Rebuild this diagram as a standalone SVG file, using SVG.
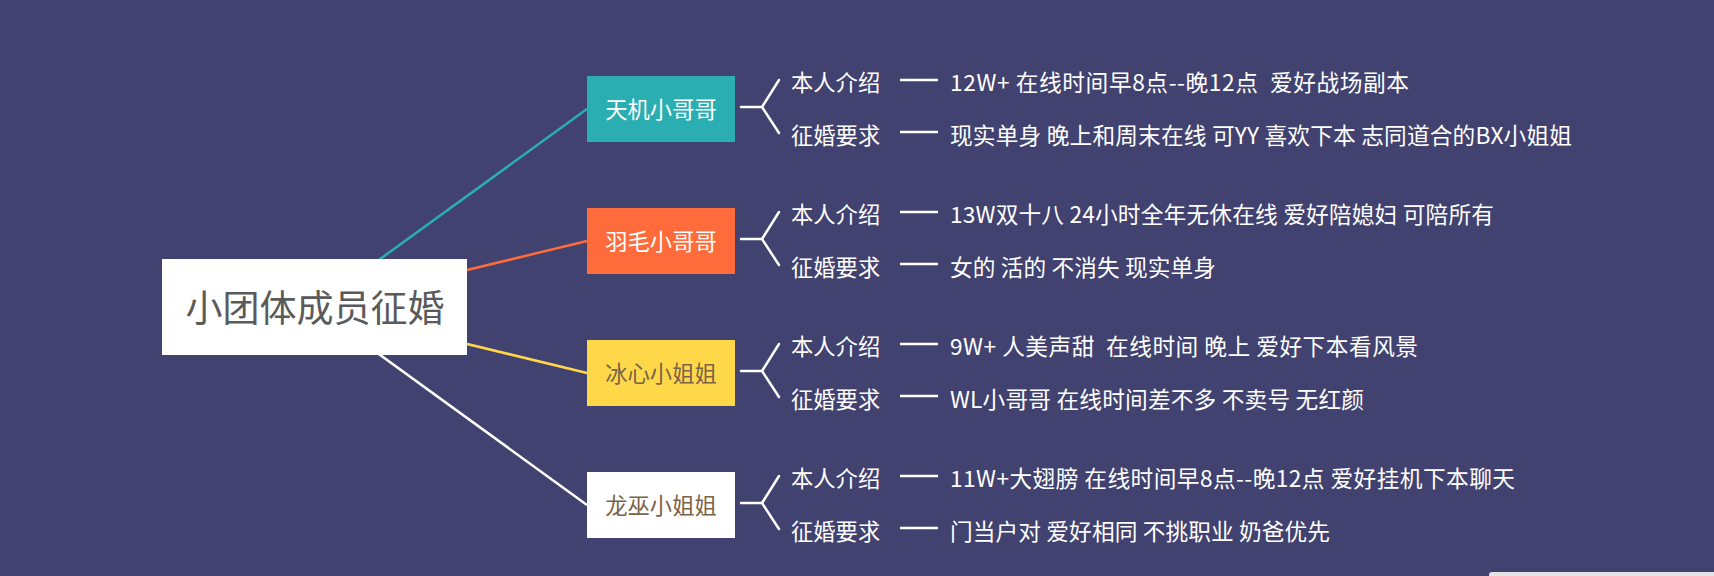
<svg xmlns="http://www.w3.org/2000/svg" width="1714" height="576" viewBox="0 0 1714 576">
<style>
.t{font-family:"Microsoft YaHei","Noto Sans CJK SC",sans-serif;font-size:22.7px;fill:#ffffff;white-space:pre}
.lbl{font-family:"Microsoft YaHei","Noto Sans CJK SC",sans-serif;font-size:22.3px;fill:#ffffff}
.br{fill:none;stroke:#ffffff;stroke-width:2.5;stroke-linecap:round;stroke-linejoin:round}
.dash{stroke:#ffffff;stroke-width:2.5}
.nt{font-family:"Microsoft YaHei","Noto Sans CJK SC",sans-serif;font-size:22.3px;text-anchor:middle}
</style>
<rect width="1714" height="576" fill="#41426f"/>
<rect x="1489" y="572" width="240" height="20" rx="3" fill="#e4e4e4"/>
<g id="connectors" stroke-width="2.5" fill="none">
<line x1="314" y1="307" x2="587" y2="109" stroke="#2aaeb2"/>
<line x1="314" y1="307" x2="587" y2="241" stroke="#ff6b3b"/>
<line x1="314" y1="307" x2="587" y2="373" stroke="#ffd84a"/>
<line x1="314" y1="307" x2="587" y2="505" stroke="#ffffff"/>
</g>
<g id="root">
<rect x="162" y="259" width="305" height="96" fill="#ffffff"/>
<text x="315" y="322" font-family="'Microsoft YaHei','Noto Sans CJK SC',sans-serif" font-size="37" fill="#5a5a5a" text-anchor="middle">小团体成员征婚</text>
</g>
<g id="n1">
<rect x="587" y="76" width="148" height="66" fill="#2aaeb2"/>
<text class="nt" x="661" y="118" fill="#ffffff">天机小哥哥</text>
<path class="br" d="M741 107H762L779 80M762 107L779 133"/>
<text class="lbl" x="791" y="91">本人介绍</text>
<text class="lbl" x="791" y="144">征婚要求</text>
<line class="dash" x1="900" y1="80" x2="938" y2="80"/>
<line class="dash" x1="900" y1="132" x2="938" y2="132"/>
<text class="t" x="950" y="91" textLength="459">12W+ 在线时间早8点--晚12点  爱好战场副本</text>
<text class="t" x="950" y="144" textLength="622">现实单身 晚上和周末在线 可YY 喜欢下本 志同道合的BX小姐姐</text>
</g>
<g id="n2">
<rect x="587" y="208" width="148" height="66" fill="#ff6b3b"/>
<text class="nt" x="661" y="250" fill="#ffffff">羽毛小哥哥</text>
<path class="br" d="M741 239H762L779 212M762 239L779 265"/>
<text class="lbl" x="791" y="223">本人介绍</text>
<text class="lbl" x="791" y="276">征婚要求</text>
<line class="dash" x1="900" y1="212" x2="938" y2="212"/>
<line class="dash" x1="900" y1="264" x2="938" y2="264"/>
<text class="t" x="950" y="223" textLength="544">13W双十八 24小时全年无休在线 爱好陪媳妇 可陪所有</text>
<text class="t" x="950" y="276" textLength="266">女的 活的 不消失 现实单身</text>
</g>
<g id="n3">
<rect x="587" y="340" width="148" height="66" fill="#ffd84a"/>
<text class="nt" x="661" y="382" fill="#7a6347">冰心小姐姐</text>
<path class="br" d="M741 371H762L779 344M762 371L779 397"/>
<text class="lbl" x="791" y="355">本人介绍</text>
<text class="lbl" x="791" y="408">征婚要求</text>
<line class="dash" x1="900" y1="344" x2="938" y2="344"/>
<line class="dash" x1="900" y1="396" x2="938" y2="396"/>
<text class="t" x="950" y="355" textLength="468">9W+ 人美声甜  在线时间 晚上 爱好下本看风景</text>
<text class="t" x="950" y="408" textLength="414">WL小哥哥 在线时间差不多 不卖号 无红颜</text>
</g>
<g id="n4">
<rect x="587" y="472" width="148" height="66" fill="#ffffff"/>
<text class="nt" x="661" y="514" fill="#7a6347">龙巫小姐姐</text>
<path class="br" d="M741 503H762L779 476M762 503L779 529"/>
<text class="lbl" x="791" y="487">本人介绍</text>
<text class="lbl" x="791" y="540">征婚要求</text>
<line class="dash" x1="900" y1="476" x2="938" y2="476"/>
<line class="dash" x1="900" y1="528" x2="938" y2="528"/>
<text class="t" x="950" y="487" textLength="565">11W+大翅膀 在线时间早8点--晚12点 爱好挂机下本聊天</text>
<text class="t" x="950" y="540" textLength="380">门当户对 爱好相同 不挑职业 奶爸优先</text>
</g>
</svg>
